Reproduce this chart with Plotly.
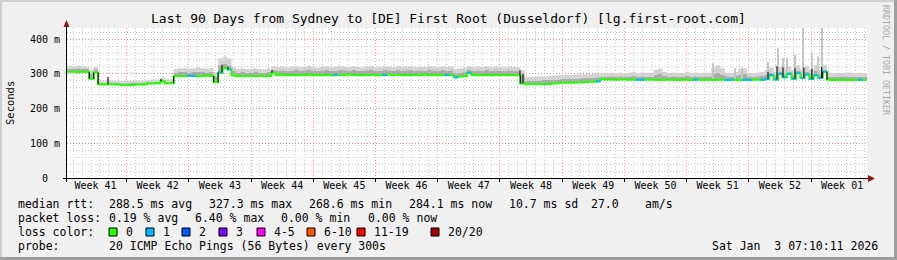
import plotly.graph_objects as go
from datetime import datetime, timedelta

# ---------------- data ----------------
START = datetime(2025, 10, 5, 7, 10, 11)
END = datetime(2026, 1, 3, 7, 10, 11)
STEP_H = 12  # one sample every 12 hours

median_ms = [
    306, 306, 305, 306, 305, 286, 304,
    270, 269, 270, 270, 269, 268, 268, 268, 269, 269, 270, 272, 272, 273, 279, 273, 273,
    293, 294, 293, 294, 294, 293, 294, 295, 294,
    276, 304, 316, 313, 296,
    293, 293, 294, 293, 293, 294, 293, 294,
    303,
    297, 298, 297, 297, 296, 297, 297, 298, 297, 296, 297, 297, 296, 297, 297, 297, 298, 297, 297, 296,
    297, 297, 297, 296, 297, 298, 297, 297, 297, 296, 297, 297, 297, 298, 297, 297, 296, 297, 297, 297,
    290, 292, 293, 303,
    297, 296, 297, 297, 296, 297, 297, 296, 297, 297, 296,
    272,
    270, 271, 270, 270, 271, 271, 272, 273, 274, 274, 274, 275, 275, 276, 277, 277, 279,
    285,
    284, 284, 283, 284, 284, 283, 284, 283, 283, 284, 283, 283, 282, 283, 283, 283, 282, 283, 283, 282,
    283, 283, 282, 283, 282, 283, 283, 282, 283, 283, 282, 283, 282, 283, 283,
    283, 285, 296, 284, 300, 290, 300, 286, 302, 288, 298, 285, 296, 288, 306,
    283, 282, 282, 283, 282, 282, 282, 283, 282, 282,
]

smoke_mid_ms = [
    315, 314, 316, 315, 314, 300, 313,
    275, 274, 276, 275, 274, 273, 273, 274, 274, 274, 275, 277, 277, 278, 284, 278, 278,
    304, 305, 306, 304, 305, 306, 305, 304, 306,
    292, 325, 330, 325, 308,
    304, 305, 303, 304, 305, 304, 303, 305,
    312,
    309, 310, 308, 309, 311, 308, 310, 311, 309, 308, 310, 311, 308, 309, 311, 310, 308, 311, 309, 308,
    310, 311, 309, 309, 311, 310, 308, 311, 309, 310, 311, 308, 310, 309, 311, 310, 308, 311, 309, 310,
    302, 304, 305, 311,
    309, 310, 309, 311, 308, 310, 309, 308, 310, 309, 308,
    296,
    280, 281, 280, 281, 282, 283, 284, 284, 285, 285, 286, 286, 287, 288, 288, 289, 290,
    292,
    292, 293, 291, 293, 292, 292, 294, 291, 293, 292, 291, 298, 300, 294, 291, 293, 292, 291, 294, 292,
    293, 291, 293, 292, 300, 304, 298, 293, 292, 294, 298, 300, 292, 291, 293,
    294, 298, 304, 294, 306, 300, 306, 296, 308, 300, 306, 296, 308, 298, 312,
    292, 291, 292, 291, 292, 292, 291, 292, 291, 292,
]

smoke_hi_ms = [
    322, 321, 323, 322, 320, 312, 320,
    281, 280, 283, 281, 280, 279, 280, 280, 281, 280, 281, 283, 284, 284, 290, 284, 284,
    315, 316, 317, 315, 316, 318, 316, 315, 317,
    305, 345, 350, 345, 320,
    314, 316, 313, 315, 316, 314, 313, 316,
    322,
    319, 321, 318, 320, 322, 319, 321, 323, 320, 318, 321, 322, 319, 320, 323, 321, 319, 322, 320, 318,
    321, 323, 319, 320, 322, 321, 319, 323, 320, 321, 322, 319, 321, 320, 323, 321, 319, 322, 320, 321,
    314, 316, 317, 321,
    319, 321, 320, 322, 319, 321, 320, 319, 321, 320, 319,
    310,
    290, 291, 291, 292, 293, 294, 295, 296, 296, 297, 297, 298, 298, 299, 299, 300, 300,
    300,
    302, 303, 301, 304, 302, 303, 305, 302, 304, 303, 302, 312, 315, 305, 302, 304, 303, 302, 305, 303,
    304, 302, 304, 303, 318, 325, 316, 303, 302, 305, 314, 316, 303, 302, 304,
    306, 312, 318, 305, 320, 318, 322, 310, 325, 312, 322, 310, 325, 312, 326,
    304, 302, 303, 302, 304, 303, 302, 303, 302, 303,
]

# samples (index) whose median carries one lost ping (loss colour "1")
loss_one_samples = [27, 28, 34, 36, 60, 71, 85, 87, 90, 119, 128, 129, 141, 148, 149, 152, 153,
                    156, 157, 158, 159, 160, 161, 162, 163, 164, 165, 166, 167, 168, 169, 170, 178]

# isolated smoke spikes (days after start, top in ms)
light_spike_days = [72.67, 75.15, 75.94, 78.86, 79.99, 80.55, 81.0, 81.9, 82.8, 83.8, 84.5, 84.94]
light_spike_tops = [331, 316, 318, 334, 374, 345, 345, 355, 432, 360, 350, 432]
dark_spike_days = [4.61, 10.57, 17.44, 18.1, 23.06, 50.96, 51.3, 78.86, 79.87, 80.55, 81.9, 82.9, 83.8, 84.9]
dark_spike_tops = [291, 285, 326, 320, 311, 310, 300, 305, 322, 318, 316, 318, 314, 320]

week_mid_dates = ["2025-10-08 12:00", "2025-10-15 12:00", "2025-10-22 12:00", "2025-10-29 12:00",
                  "2025-11-05 12:00", "2025-11-12 12:00", "2025-11-19 12:00", "2025-11-26 12:00",
                  "2025-12-03 12:00", "2025-12-10 12:00", "2025-12-17 12:00", "2025-12-24 12:00",
                  "2025-12-31 12:00"]
week_labels = ["Week 41", "Week 42", "Week 43", "Week 44", "Week 45", "Week 46", "Week 47",
               "Week 48", "Week 49", "Week 50", "Week 51", "Week 52", "Week 01"]
y_tick_vals = [0, 100, 200, 300, 400]
y_tick_text = ["0\u00a0\u00a0", "100 m", "200 m", "300 m", "400 m"]

loss_labels = ["0", "1", "2", "3", "4-5", "6-10", "11-19", "20/20"]
loss_colors = ["#26ff00", "#00b8ff", "#0059ff", "#7e00ff", "#ff00ff", "#ff5500", "#ff0000", "#a10000"]

stats_rtt = ["288.5 ms avg", "327.3 ms max", "268.6 ms min", "284.1 ms now", "10.7 ms sd", "27.0", "am/s"]
stats_loss = ["0.19 % avg", "6.40 % max", "0.00 % min", "0.00 % now"]
probe_text = "20 ICMP Echo Pings (56 Bytes) every 300s"
stamp_text = "Sat Jan\u00a0\u00a03 07:10:11 2026"
title_text = "Last 90 Days from Sydney to [DE] First Root (Dusseldorf) [lg.first-root.com]"

# ---------------- layout helpers (pixel -> paper) ----------------
W, H = 897, 260
PL, PR, PT, PB = 67, 867, 28, 178
def px(x):
    return (x - PL) / (PR - PL)
def py(y):
    return (PB - y) / (PB - PT)

FONT = "DejaVu Sans Mono"
N = min(len(median_ms), len(smoke_mid_ms), len(smoke_hi_ms))
times = [START + timedelta(hours=STEP_H * i) for i in range(N)]
med = median_ms[:N]

fig = go.Figure()

# smoke: dark band then light band
fig.add_trace(go.Scatter(x=times, y=med, mode="lines", line=dict(width=0, shape="hv"),
                         hoverinfo="skip"))
fig.add_trace(go.Scatter(x=times, y=smoke_mid_ms[:N], mode="lines", line=dict(width=0, shape="hv"),
                         fill="tonexty", fillcolor="#ababab", hoverinfo="skip"))
fig.add_trace(go.Scatter(x=times, y=smoke_hi_ms[:N], mode="lines", line=dict(width=0, shape="hv"),
                         fill="tonexty", fillcolor="#d3d3d3", hoverinfo="skip"))

def base_at(day):
    return med[min(int(day * 24 / STEP_H), N - 1)]

lx, ly = [], []
for d, top in zip(light_spike_days, light_spike_tops):
    t = START + timedelta(days=d)
    lx += [t, t, None]
    ly += [base_at(d), top, None]
fig.add_trace(go.Scatter(x=lx, y=ly, mode="lines", line=dict(width=2, color="#c4c4c4"), hoverinfo="skip"))

# median line (on the overlay axis so it sits above the smoke)
fig.add_trace(go.Scatter(x=times, y=med, mode="lines", line=dict(width=2, color=loss_colors[0], shape="hv"),
                         xaxis="x2", hoverinfo="skip"))
bx, by = [], []
for i in loss_one_samples:
    if i + 1 < N:
        bx += [times[i], times[i + 1], None]
        by += [med[i], med[i], None]
fig.add_trace(go.Scatter(x=bx, y=by, mode="lines", line=dict(width=2, color=loss_colors[1]),
                         xaxis="x2", hoverinfo="skip"))
dx, dy = [], []
for i in range(N - 1):
    if abs(med[i + 1] - med[i]) > 17:
        dx += [times[i + 1], times[i + 1], None]
        dy += [med[i], med[i + 1], None]
for d, top in zip(dark_spike_days, dark_spike_tops):
    t = START + timedelta(days=d)
    dx += [t, t, None]
    dy += [base_at(d), top, None]
fig.add_trace(go.Scatter(x=dx, y=dy, mode="lines", line=dict(width=1.2, color="#1a1a1a"),
                         xaxis="x2", hoverinfo="skip"))

red_grid = "rgba(255,80,80,0.6)"
gray_grid = "#c8c8c8"
dots = "1px,2px"

fig.update_layout(
    width=W, height=H, margin=dict(l=PL, r=W - PR, t=PT, b=H - PB, pad=0),
    paper_bgcolor="#f0f0f0", plot_bgcolor="#ffffff", showlegend=False,
    font=dict(family=FONT, size=10, color="#000000"),
    xaxis=dict(type="date", range=[START, END], tick0="2025-10-12", dtick=604800000,
               showticklabels=False, showgrid=True, gridcolor=red_grid, griddash=dots, gridwidth=1,
               ticks="outside", ticklen=3, tickcolor="#000000", showline=False, zeroline=False,
               minor=dict(tick0="2025-10-05", dtick=86400000, showgrid=True, gridcolor=gray_grid,
                          griddash=dots, ticks="")),
    xaxis2=dict(type="date", range=[START, END], overlaying="x", anchor="y", side="bottom",
                tickmode="array", tickvals=week_mid_dates, ticktext=week_labels, showgrid=False,
                ticks="", showline=False, zeroline=False, tickfont=dict(family=FONT, size=10, color="#000")),
    yaxis=dict(range=[0, 432], tickmode="array", tickvals=y_tick_vals, ticktext=y_tick_text,
               showgrid=True, gridcolor=red_grid, griddash=dots, zeroline=False, showline=False,
               ticks="", ticklabelstandoff=6, tickfont=dict(family=FONT, size=10, color="#000"),
               minor=dict(tick0=0, dtick=20, showgrid=True, gridcolor=gray_grid, griddash=dots)),
)

shapes = []
# outer 3D frame
shapes.append(dict(type="rect", xref="paper", yref="paper", x0=px(0), x1=px(W), y0=py(0), y1=py(2),
                   fillcolor="#cfcfcf", line=dict(width=0)))
shapes.append(dict(type="rect", xref="paper", yref="paper", x0=px(0), x1=px(2), y0=py(0), y1=py(H),
                   fillcolor="#cfcfcf", line=dict(width=0)))
shapes.append(dict(type="rect", xref="paper", yref="paper", x0=px(0), x1=px(W), y0=py(H - 3), y1=py(H),
                   fillcolor="#9e9e9e", line=dict(width=0)))
shapes.append(dict(type="rect", xref="paper", yref="paper", x0=px(W - 3), x1=px(W), y0=py(0), y1=py(H),
                   fillcolor="#9e9e9e", line=dict(width=0)))
# axis lines + arrows
shapes.append(dict(type="line", xref="paper", yref="paper", x0=px(63), x1=px(869), y0=py(178.5), y1=py(178.5),
                   line=dict(color="#000000", width=1)))
shapes.append(dict(type="line", xref="paper", yref="paper", x0=px(66.5), x1=px(66.5), y0=py(182), y1=py(25),
                   line=dict(color="#000000", width=1)))
shapes.append(dict(type="path", xref="paper", yref="paper",
                   path=f"M {px(63.5)} {py(27)} L {px(69.5)} {py(27)} L {px(66.5)} {py(20)} Z",
                   fillcolor="#8b1a1a", line=dict(width=0)))
shapes.append(dict(type="path", xref="paper", yref="paper",
                   path=f"M {px(868)} {py(175)} L {px(868)} {py(182)} L {px(875)} {py(178.5)} Z",
                   fillcolor="#8b1a1a", line=dict(width=0)))
# loss colour swatches
swatch_x = [109, 146, 182, 219, 257, 307, 357, 431]
for sx, col in zip(swatch_x, loss_colors):
    shapes.append(dict(type="rect", xref="paper", yref="paper", x0=px(sx), x1=px(sx + 8),
                       y0=py(236), y1=py(228), fillcolor=col, line=dict(color="#000000", width=1)))
fig.update_layout(shapes=shapes)

ann = []
def text(x, y, s, size=11.5, anchor="left", color="#000000", angle=0):
    ann.append(dict(xref="paper", yref="paper", x=px(x), y=py(y), text=s, showarrow=False,
                    xanchor=anchor, yanchor="middle", textangle=angle,
                    font=dict(family=FONT, size=size, color=color)))

text(448.5, 19, title_text, size=13, anchor="center")
text(10, 103, "Seconds", size=10.5, anchor="center", angle=-90)
text(886, 60, "RRDTOOL / TOBI OETIKER", size=8.3, anchor="center", color="#a8a8a8", angle=90)

text(16, 204, "median rtt:")
for xx, s in zip([107, 207, 307, 407, 507, 589, 643], stats_rtt):
    text(xx, 204, s)
text(16, 218, "packet loss:")
for xx, s in zip([107, 193, 279, 365.5], stats_loss):
    text(xx, 218, s)
text(16, 232, "loss color:")
for sx, lab in zip(swatch_x, loss_labels):
    text(sx + 14.5, 232, lab)
text(16, 246, "probe:")
text(107, 246, probe_text)
text(880, 246, stamp_text, anchor="right")
fig.update_layout(annotations=ann)

fig.write_html("out.html")
